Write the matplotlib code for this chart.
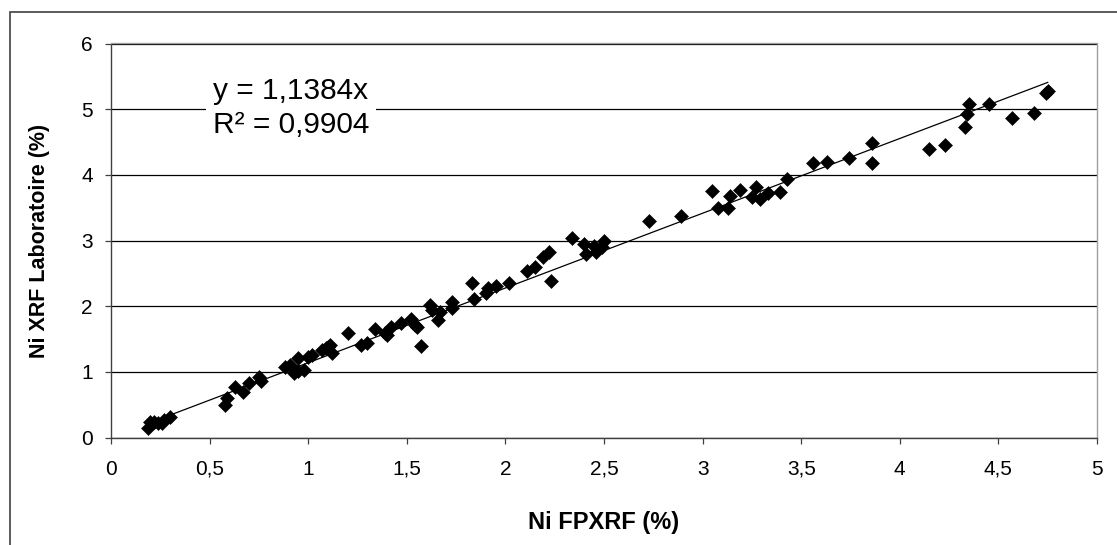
import matplotlib
matplotlib.use("Agg")
import matplotlib.pyplot as plt
from matplotlib.patches import Rectangle
import numpy as np

# =====================
# Data
# =====================

ni_fpxrf = [0.19, 0.20, 0.22, 0.24, 0.26, 0.27, 0.30,
            0.58, 0.59, 0.63, 0.67, 0.70, 0.75, 0.76,
            0.88, 0.91, 0.93, 0.95, 0.95, 0.98, 1.00, 1.02, 1.07, 1.09, 1.10, 1.11, 1.12,
            1.20, 1.27, 1.30, 1.34, 1.39, 1.40, 1.42, 1.47, 1.52, 1.54, 1.55, 1.57,
            1.62, 1.63, 1.66, 1.67, 1.73, 1.73, 1.83, 1.84, 1.90, 1.91, 1.95,
            2.02, 2.11, 2.15, 2.19, 2.22, 2.23, 2.34, 2.40, 2.41, 2.45, 2.46, 2.49, 2.50,
            2.73, 2.89,
            3.05, 3.08, 3.13, 3.14, 3.19, 3.25, 3.27, 3.29, 3.33, 3.39, 3.43, 3.56, 3.63,
            3.74, 3.86, 3.86, 4.15, 4.23, 4.33, 4.34, 4.35, 4.45, 4.57, 4.68, 4.74, 4.75]

ni_labo = [0.14, 0.24, 0.24, 0.22, 0.22, 0.27, 0.31,
           0.50, 0.60, 0.77, 0.70, 0.83, 0.92, 0.86,
           1.07, 1.10, 0.98, 1.02, 1.21, 1.03, 1.22, 1.26, 1.33, 1.36, 1.38, 1.41, 1.29,
           1.59, 1.41, 1.44, 1.65, 1.59, 1.56, 1.69, 1.74, 1.80, 1.72, 1.69, 1.39,
           2.02, 1.94, 1.79, 1.91, 2.07, 1.97, 2.35, 2.11, 2.20, 2.28, 2.30,
           2.36, 2.54, 2.60, 2.75, 2.83, 2.39, 3.04, 2.94, 2.79, 2.92, 2.83, 2.90, 2.99,
           3.30, 3.37,
           3.76, 3.50, 3.50, 3.68, 3.77, 3.67, 3.82, 3.63, 3.72, 3.74, 3.94, 4.18, 4.20,
           4.26, 4.49, 4.18, 4.40, 4.46, 4.73, 4.92, 5.08, 5.08, 4.86, 4.94, 5.25, 5.28]

slope = 1.1384
r2 = 0.9904

x_ticks = [0, 0.5, 1, 1.5, 2, 2.5, 3, 3.5, 4, 4.5, 5]
x_tick_labels = ["0", "0,5", "1", "1,5", "2", "2,5", "3", "3,5", "4", "4,5", "5"]
y_ticks = [0, 1, 2, 3, 4, 5, 6]

# =====================
# Figure
# =====================

plt.rcParams["font.family"] = ["Liberation Sans", "DejaVu Sans"]

fig = plt.figure(figsize=(11.17, 5.45), dpi=100)
ax = fig.add_axes([111 / 1117, (545 - 437.5) / 545, 986 / 1117, 394 / 545])

# outer chart frame (cut off at right and bottom)
fig.patches.append(Rectangle((10 / 1117, -0.1), 1.2, 1.1 - 12 / 545,
                             transform=fig.transFigure, fill=False,
                             edgecolor="#404040", linewidth=1.2))

ax.plot(ni_fpxrf, ni_labo, linestyle="none", marker="D", markersize=6.8,
        color="black", markeredgewidth=0.4, zorder=3)

x_line = np.array([min(ni_fpxrf), max(ni_fpxrf)])
ax.plot(x_line, slope * x_line, color="black", linewidth=0.9, zorder=2)

ax.set_xlim(0, 5)
ax.set_ylim(0, 6)
ax.set_xticks(x_ticks)
ax.set_xticklabels(x_tick_labels)
ax.set_yticks(y_ticks)

ax.yaxis.grid(True, color="black", linewidth=0.9)
ax.set_axisbelow(True)

for side in ["left", "bottom"]:
    ax.spines[side].set_color("#404040")
    ax.spines[side].set_linewidth(1.0)
for side in ["top", "right"]:
    ax.spines[side].set_color("#a0a0a0")
    ax.spines[side].set_linewidth(1.0)

ax.tick_params(axis="both", direction="out", length=4, width=0.9,
               color="#404040", labelsize=15)
ax.tick_params(axis="x", pad=12)
ax.tick_params(axis="y", pad=9)

ax.set_xlabel("Ni FPXRF (%)", fontsize=17, fontweight="bold")
ax.set_ylabel("Ni XRF Laboratoire (%)", fontsize=15.5, fontweight="bold")
ax.xaxis.set_label_coords(0.5, (437.5 - 511) / 394)
ax.yaxis.set_label_coords((50 - 111) / 986, 0.5)

eq_text = "y = " + f"{slope:.4f}".replace(".", ",") + "x\nR² = " + f"{r2:.4f}".replace(".", ",")
ax.text((213 - 111) / 986, (437.5 - 108) / 394, eq_text, transform=ax.transAxes,
        fontsize=21.5, ha="left", va="center", linespacing=1.3,
        bbox=dict(facecolor="white", edgecolor="none", pad=5), zorder=4)

plt.savefig("out.png", dpi=100)
plt.close()
